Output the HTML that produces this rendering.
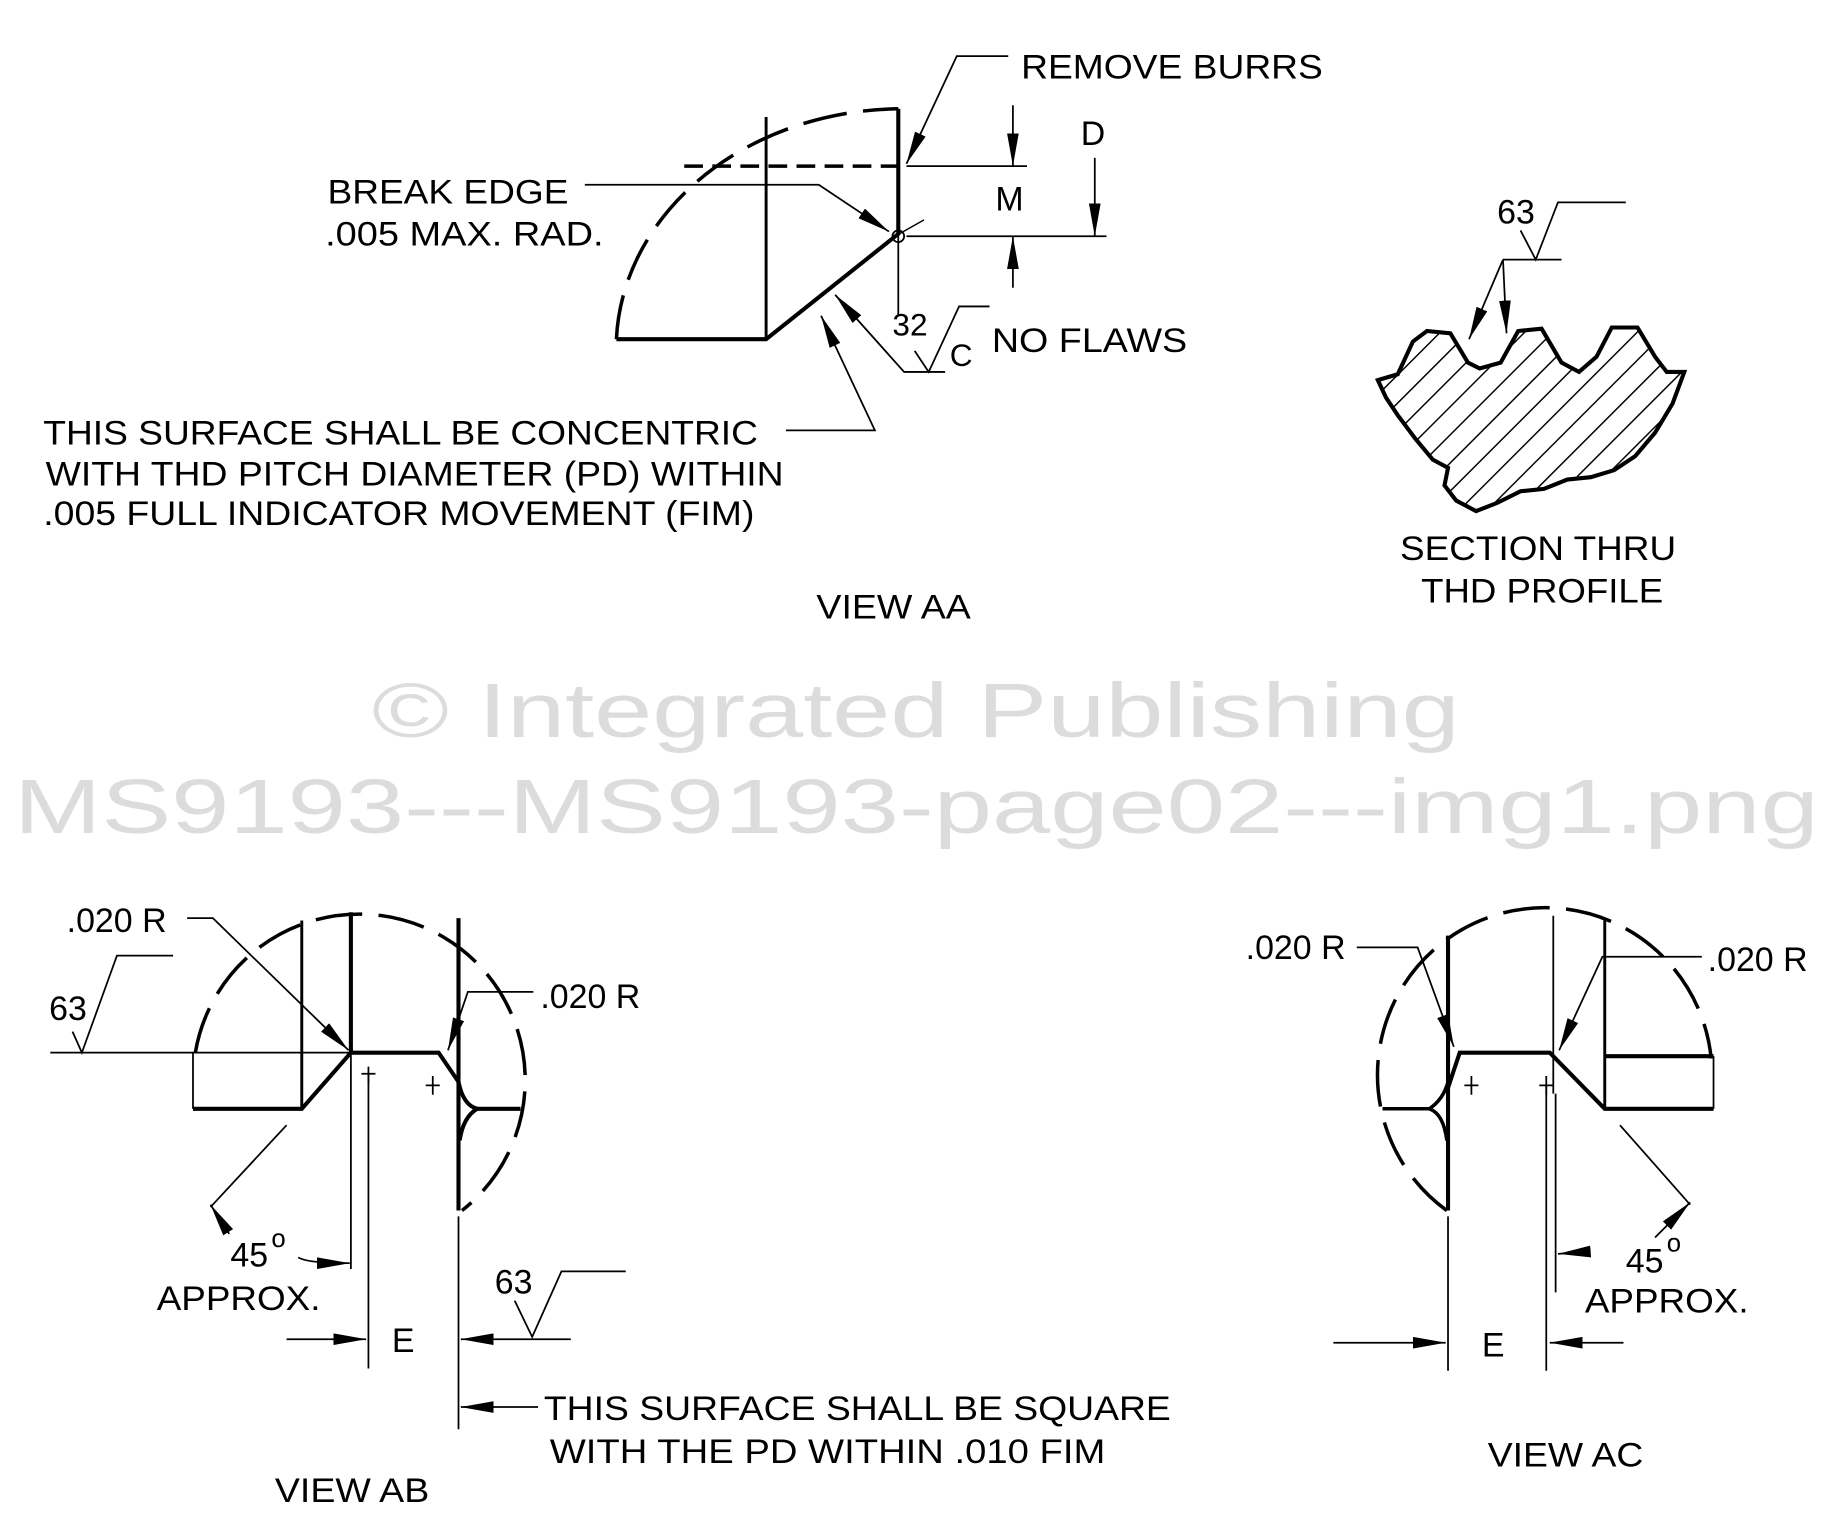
<!DOCTYPE html>
<html><head><meta charset="utf-8"><style>
html,body{margin:0;padding:0;background:#fff;}
svg{display:block;}
text{font-family:"Liberation Sans",Arial,sans-serif;fill:#000;}
</style></head><body>
<svg width="1834" height="1524" viewBox="0 0 1568 1303" preserveAspectRatio="none" xmlns="http://www.w3.org/2000/svg">
<defs>
<marker id="a" viewBox="0 0 28 10" refX="28" refY="5" markerWidth="28" markerHeight="10" markerUnits="userSpaceOnUse" orient="auto"><path d="M0,0L28,5L0,10z"/></marker>
<pattern id="h" width="17" height="17" patternUnits="userSpaceOnUse" patternTransform="rotate(45)"><line x1="0" y1="0" x2="0" y2="17" stroke="#000" stroke-width="2.5"/></pattern>
</defs>
<g font-size="29">
<text x="318" y="630" font-size="66" style="fill:#dcdcdc" textLength="930" lengthAdjust="spacingAndGlyphs">© Integrated Publishing</text>
<text x="12" y="712" font-size="66" style="fill:#dcdcdc" textLength="1543" lengthAdjust="spacingAndGlyphs">MS9193---MS9193-page02---img1.png</text>

<g fill="none" stroke="#000">
<path d="M527,290 A245 205 0 0 1 768,93" stroke-width="3" stroke-dasharray="38,14"/>
<line x1="655" y1="100" x2="655" y2="290" stroke-width="2.5"/>
<path d="M527,290 L655,290 L768,200 L768,93" stroke-width="3.5"/>
<line x1="768" y1="200" x2="768" y2="270" stroke-width="1.5"/>
<line x1="585" y1="142" x2="768" y2="142" stroke-width="3" stroke-dasharray="16,8"/>
<circle cx="768" cy="202" r="5" stroke-width="1.5"/>
<line x1="760" y1="205" x2="790" y2="188" stroke-width="1.2"/>
<line x1="775" y1="142" x2="878" y2="142" stroke-width="1.5"/>
<line x1="775" y1="202" x2="946" y2="202" stroke-width="1.5"/>
<line x1="866" y1="90" x2="866" y2="142" stroke-width="1.5" marker-end="url(#a)"/>
<line x1="866" y1="246" x2="866" y2="202" stroke-width="1.5" marker-end="url(#a)"/>
<line x1="936" y1="135" x2="936" y2="202" stroke-width="1.5" marker-end="url(#a)"/>
<polyline points="862,48 818,48 775,140" stroke-width="1.5" marker-end="url(#a)"/>
<polyline points="500,158 700,158 760,198" stroke-width="1.5" marker-end="url(#a)"/>
<polyline points="846,262 820,262 794,318 782,300" stroke-width="1.5"/>
<polyline points="808,318 773,318 714,252" stroke-width="1.5" marker-end="url(#a)"/>
<polyline points="672,368 748,368 702,270" stroke-width="1.5" marker-end="url(#a)"/>
</g>
<text x="873" y="67" textLength="258" lengthAdjust="spacingAndGlyphs">REMOVE BURRS</text>
<text x="924" y="124">D</text>
<text x="851" y="180">M</text>
<text x="280" y="174" textLength="206" lengthAdjust="spacingAndGlyphs">BREAK EDGE</text>
<text x="278" y="210" textLength="238" lengthAdjust="spacingAndGlyphs">.005  MAX. RAD.</text>
<text x="763" y="287" font-size="27">32</text>
<text x="812" y="313" font-size="27">C</text>
<text x="848" y="301" textLength="167" lengthAdjust="spacingAndGlyphs">NO FLAWS</text>
<text x="37" y="380" textLength="611" lengthAdjust="spacingAndGlyphs">THIS SURFACE SHALL BE CONCENTRIC</text>
<text x="39" y="415" textLength="631" lengthAdjust="spacingAndGlyphs">WITH THD PITCH DIAMETER (PD)  WITHIN</text>
<text x="37" y="449" textLength="608" lengthAdjust="spacingAndGlyphs">.005 FULL INDICATOR MOVEMENT (FIM)</text>
<text x="698" y="529" textLength="132" lengthAdjust="spacingAndGlyphs">VIEW AA</text>

<path d="M1178,325 L1195,320 L1208,292 L1220,283 L1240,285 L1255,310 L1265,315 L1283,310 L1298,283 L1318,281 L1335,310 L1350,318 L1365,305 L1378,280 L1400,280 L1415,305 L1425,318 L1440,318 L1430,345 L1415,370 L1398,390 L1380,402 L1360,408 L1340,410 L1320,418 L1300,420 L1280,430 L1262,437 L1245,428 L1235,415 L1238,400 L1225,393 L1210,375 L1195,355 L1185,340 Z" fill="url(#h)" stroke="#000" stroke-width="3.5"/>
<g fill="none" stroke="#000" stroke-width="1.5">
<polyline points="1390,173 1332,173 1313,222 1300,197"/>
<line x1="1285" y1="222" x2="1335" y2="222"/>
<line x1="1285" y1="222" x2="1256" y2="290" marker-end="url(#a)"/>
<line x1="1285" y1="222" x2="1288" y2="285" marker-end="url(#a)"/>
</g>
<text x="1280" y="191">63</text>
<text x="1197" y="479" textLength="236" lengthAdjust="spacingAndGlyphs">SECTION THRU</text>
<text x="1215" y="515" textLength="207" lengthAdjust="spacingAndGlyphs">THD PROFILE</text>

<g fill="none" stroke="#000">
<path d="M167,900 A142 142 0 1 1 395,1035" stroke-width="3" stroke-dasharray="40,14"/>
<line x1="258" y1="787" x2="258" y2="948" stroke-width="2.5"/>
<line x1="300" y1="780" x2="300" y2="900" stroke-width="3.5"/>
<path d="M165,948 L258,948 L300,900 L375,900 L392,925" stroke-width="3.5"/>
<line x1="165" y1="900" x2="165" y2="948" stroke-width="1.5"/>
<line x1="392" y1="785" x2="392" y2="1035" stroke-width="3.5"/>
<path d="M392,925 Q396,945 408,948 L445,948 M408,948 Q396,955 393,975" stroke-width="3.5"/>
<line x1="43" y1="900" x2="300" y2="900" stroke-width="1.5"/>
<polyline points="148,817 100,817 70,900 62,882" stroke-width="1.5"/>
<polyline points="160,785 182,785 298,898" stroke-width="1.5" marker-end="url(#a)"/>
<polyline points="456,848 400,848 383,898" stroke-width="1.5" marker-end="url(#a)"/>
<path d="M309,918 H321 M315,912 V926 M364,928 H376 M370,920 V936" stroke-width="1.5"/>
<line x1="300" y1="900" x2="300" y2="1085" stroke-width="1.5"/>
<line x1="315" y1="918" x2="315" y2="1170" stroke-width="1.5"/>
<line x1="392" y1="1040" x2="392" y2="1222" stroke-width="1.5"/>
<line x1="245" y1="962" x2="180" y2="1032" stroke-width="1.5"/>
<line x1="196" y1="1055" x2="180" y2="1030" stroke-width="1.5" marker-end="url(#a)"/>
<path d="M255,1075 Q262,1080 299,1080" stroke-width="1.5" marker-end="url(#a)"/>
<line x1="245" y1="1145" x2="313" y2="1145" stroke-width="1.5" marker-end="url(#a)"/>
<line x1="488" y1="1145" x2="394" y2="1145" stroke-width="1.5" marker-end="url(#a)"/>
<polyline points="535,1087 480,1087 455,1143 440,1112" stroke-width="1.5"/>
<line x1="460" y1="1203" x2="394" y2="1203" stroke-width="1.5" marker-end="url(#a)"/>
</g>
<text x="57" y="797">.020 R</text>
<text x="462" y="862">.020 R</text>
<text x="42" y="872">63</text>
<text x="197" y="1083">45</text><text x="232" y="1066" font-size="22">o</text>
<text x="134" y="1120" textLength="140" lengthAdjust="spacingAndGlyphs">APPROX.</text>
<text x="335" y="1156">E</text>
<text x="423" y="1106">63</text>
<text x="465" y="1214" textLength="536" lengthAdjust="spacingAndGlyphs">THIS SURFACE SHALL BE SQUARE</text>
<text x="470" y="1251" textLength="475" lengthAdjust="spacingAndGlyphs">WITH THE  PD   WITHIN .010 FIM</text>
<text x="235" y="1284" textLength="132" lengthAdjust="spacingAndGlyphs">VIEW AB</text>

<g fill="none" stroke="#000">
<path d="M1237,1035 A143 143 0 1 1 1463,905" stroke-width="3" stroke-dasharray="40,14"/>
<line x1="1238" y1="800" x2="1238" y2="1035" stroke-width="3.5"/>
<line x1="1328" y1="783" x2="1328" y2="935" stroke-width="1.5"/>
<line x1="1372" y1="787" x2="1372" y2="948" stroke-width="2.5"/>
<path d="M1238,930 L1248,900 L1325,900 L1372,948 L1465,948" stroke-width="3.5"/>
<line x1="1372" y1="903" x2="1465" y2="903" stroke-width="3.5"/>
<line x1="1465" y1="903" x2="1465" y2="948" stroke-width="1.5"/>
<path d="M1182,948 L1222,948 Q1234,952 1237,975 M1222,948 Q1234,940 1238,925" stroke-width="3"/>
<polyline points="1160,810 1212,810 1243,895" stroke-width="1.5" marker-end="url(#a)"/>
<polyline points="1455,818 1370,818 1333,898" stroke-width="1.5" marker-end="url(#a)"/>
<path d="M1252,928 H1264 M1258,920 V936 M1316,928 H1328 M1322,920 V936" stroke-width="1.5"/>
<line x1="1238" y1="1040" x2="1238" y2="1172" stroke-width="1.5"/>
<line x1="1322" y1="928" x2="1322" y2="1172" stroke-width="1.5"/>
<line x1="1330" y1="935" x2="1330" y2="1105" stroke-width="1.5"/>
<line x1="1385" y1="962" x2="1445" y2="1030" stroke-width="1.5"/>
<path d="M1415,1058 L1445,1028" stroke-width="1.5" marker-end="url(#a)"/>
<path d="M1360,1070 L1332,1072" stroke-width="1.5" marker-end="url(#a)"/>
<line x1="1140" y1="1148" x2="1236" y2="1148" stroke-width="1.5" marker-end="url(#a)"/>
<line x1="1388" y1="1148" x2="1325" y2="1148" stroke-width="1.5" marker-end="url(#a)"/>
</g>
<text x="1065" y="820">.020 R</text>
<text x="1460" y="830">.020 R</text>
<text x="1390" y="1088">45</text><text x="1425" y="1070" font-size="22">o</text>
<text x="1355" y="1122" textLength="140" lengthAdjust="spacingAndGlyphs">APPROX.</text>
<text x="1267" y="1160">E</text>
<text x="1272" y="1254" textLength="133" lengthAdjust="spacingAndGlyphs">VIEW AC</text>
</g>
</svg>
</body></html>
